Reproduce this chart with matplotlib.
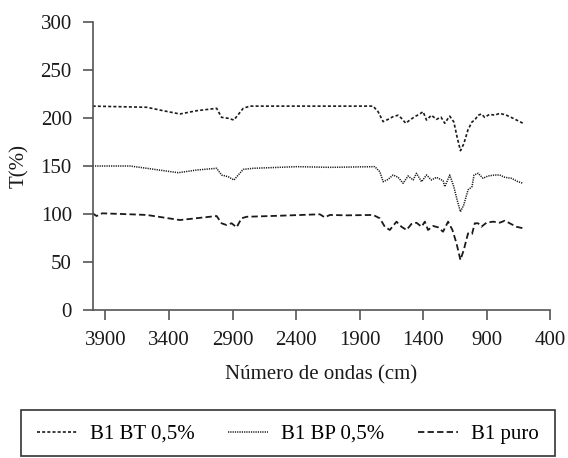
import matplotlib
matplotlib.use("Agg")
import matplotlib.pyplot as plt
from matplotlib.patches import Rectangle

plt.rcParams['font.family'] = ['Liberation Serif', 'DejaVu Serif']

# ---- data ----
bt_wn = [4000, 3575, 3445, 3314, 3182, 3025, 2986, 2934, 2889, 2816, 2763, 1794, 1755, 1715,
         1676, 1637, 1597, 1571, 1537, 1505, 1466, 1427, 1401, 1374, 1335, 1296, 1260, 1230,
         1204, 1191, 1159, 1133, 1107, 1081, 1047, 1016, 994, 968, 942, 916, 877, 837, 798,
         745, 693, 615]
bt_val = [212.5, 211.3, 207.7, 204.3, 207.7, 210.2, 200.8, 199.8, 198, 210.2, 212.5, 212.5, 206.7, 196.3,
          198.7, 201.5, 203, 199.8, 194.6, 198, 201.5, 204.3, 206.7, 198, 203, 198.7, 201, 194.6,
          199.8, 202, 196, 180, 166, 173, 188, 196, 198, 203, 204.3, 200.8, 204, 203, 205,
          203, 199.8, 194.6]

bp_wn = [4000, 3707, 3575, 3327, 3182, 3025, 2986, 2934, 2889, 2816, 2737, 2396, 2134, 1781,
         1741, 1715, 1676, 1637, 1597, 1558, 1519, 1479, 1453, 1413, 1374, 1335, 1296, 1244,
         1230, 1191, 1159, 1133, 1107, 1081, 1047, 1016, 1000, 968, 929, 890, 837, 798, 758,
         706, 654, 615]
bp_val = [150, 150, 147.6, 143, 145.8, 147.6, 140.6, 138.8, 135.4, 146.5, 147.6, 149.3, 148.6, 149.3,
          144, 133.6, 136, 140.6, 138.2, 131.9, 139.6, 135.4, 142.4, 133.6, 140.6, 135.4, 138.2, 134.7,
          128.4, 140.6, 128.4, 114.5, 102.3, 109.3, 125, 128.4, 140.6, 142.4, 137.2, 139.6, 140.6, 140.6, 138.2,
          137.2, 133.6, 132]

puro_wn = [4000, 3970, 3925, 3707, 3575, 3314, 3025, 2986, 2947, 2907, 2868, 2829, 2789, 2527,
           2213, 2174, 2134, 2000, 1794, 1741, 1702, 1663, 1610, 1571, 1531, 1492, 1453, 1413,
           1387, 1362, 1322, 1283, 1244, 1204, 1170, 1138, 1107, 1081, 1047, 1016, 994, 968,
           942, 902, 850, 798, 758, 719, 667, 615]
puro_val = [100.6, 97.8, 100.6, 99.6, 98.9, 93.6, 97.8, 90.2, 88.4, 90.2, 86, 95.4, 97, 98.1,
            99.6, 96.4, 98.9, 98.5, 98.9, 95.4, 86.6, 83.2, 91.9, 86.6, 83.2, 89.5, 90.8, 86.6,
            91.9, 83.2, 87.4, 86, 81.4, 91.9, 83.2, 69.3, 51.9, 62.3, 79.7, 79, 90.2, 90.2,
            86.6, 90.8, 91.9, 90.8, 92.9, 90.2, 86.6, 85]

labels = ["B1 BT 0,5%", "B1 BP 0,5%", "B1 puro"]
xticks = [3900, 3400, 2900, 2400, 1900, 1400, 900, 400]
yticks = [0, 50, 100, 150, 200, 250, 300]

# ---- figure ----
W, H = 568, 458
fig = plt.figure(figsize=(W / 100, H / 100), dpi=100)
ax = fig.add_axes([92.7 / W, 1 - 309.7 / H, (550.3 - 92.7) / W, (309.7 - 22.3) / H])

lc = '#1a1a1a'
l1, = ax.plot(bt_wn, bt_val, color=lc, lw=1.2, linestyle=(0, (1.8, 1.3)), label=labels[0])
l2, = ax.plot(bp_wn, bp_val, color=lc, lw=1.1, linestyle=(0, (0.8, 0.7)), label=labels[1])
l3, = ax.plot(puro_wn, puro_val, color=lc, lw=1.3, linestyle=(0, (3.5, 1.8)), label=labels[2])

ax.set_xlim(4000, 400)
ax.set_ylim(0, 300)
ax.set_xticks(xticks)
ax.set_xticklabels([str(t) for t in xticks])
ax.set_yticks(yticks)
ax.set_yticklabels([str(t) for t in yticks])

for s in ['top', 'right']:
    ax.spines[s].set_visible(False)
spc = '#555555'
for s in ['left', 'bottom']:
    ax.spines[s].set_color(spc)
    ax.spines[s].set_linewidth(1.2)
ax.tick_params(axis='both', direction='out', length=7, width=1.2, color=spc,
               labelsize=15, pad=8, labelcolor='#1a1a1a')

ax.set_xlabel("Número de ondas (cm)", fontsize=15, color='#1a1a1a', labelpad=11)
ax.set_ylabel("T(%)", fontsize=15, color='#1a1a1a', labelpad=8)

# legend box
fig.patches.append(Rectangle((21 / W, 1 - 456 / H), (555 - 21) / W, (456 - 410) / H,
                             transform=fig.transFigure, fill=False, edgecolor='#333333',
                             linewidth=1.2))
fig.legend(handles=[l1, l2, l3], labels=labels, loc='center',
           bbox_to_anchor=(288 / W, 1 - 434 / H), ncol=3, frameon=False,
           fontsize=15, handlelength=1.9, handletextpad=0.65, columnspacing=1.6,
           borderpad=0, borderaxespad=0)

fig.savefig("out.png", dpi=100)
